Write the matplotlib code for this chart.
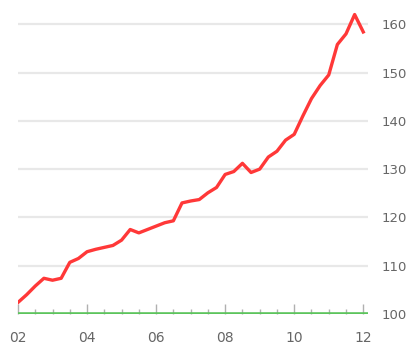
import matplotlib.pyplot as plt
from matplotlib.ticker import FixedLocator, MultipleLocator

# quarterly index, 2002Q1 .. 2012Q1
years = [2002 + 0.25 * i for i in range(41)]
index_values = [
    102.4, 104.0, 105.8, 107.4, 107.0, 107.4, 110.7, 111.5, 112.9, 113.4,
    113.8, 114.2, 115.3, 117.5, 116.8, 117.5, 118.2, 118.9, 119.3, 123.0,
    123.4, 123.7, 125.1, 126.2, 128.9, 129.5, 131.2, 129.3, 130.0, 132.5,
    133.7, 136.0, 137.2, 141.0, 144.6, 147.3, 149.5, 155.8, 158.0, 162.0,
    158.4,
]
baseline = 100
y_ticks = [100, 110, 120, 130, 140, 150, 160]
x_ticks = [2002, 2004, 2006, 2008, 2010, 2012]
x_labels = ["02", "04", "06", "08", "10", "12"]

fig = plt.figure(figsize=(4.09, 3.47), dpi=100)
ax = fig.add_axes([0.044, 0.095, 0.856, 0.877])

# grid
for v in y_ticks[1:]:
    ax.axhline(v, color="#e8e8e8", lw=1.6, zorder=1)

ax.plot(years, index_values, color="#ff3838", lw=2.4, zorder=3)
ax.axhline(baseline, color="#5cc45c", lw=2.6, zorder=2)

ax.set_xlim(2002, 2012.14)
ax.set_ylim(100, 163)

for s in ax.spines.values():
    s.set_visible(False)

ax.yaxis.tick_right()
ax.set_yticks(y_ticks)
ax.tick_params(axis="y", length=0, pad=10, labelsize=9.5, labelcolor="#666666")

ax.xaxis.set_major_locator(FixedLocator(x_ticks))
ax.set_xticklabels(x_labels)
ax.xaxis.set_minor_locator(MultipleLocator(0.5))
ax.tick_params(axis="x", which="major", direction="in", length=7.5, width=1,
               color="#b0b0b0", pad=12, labelsize=10, labelcolor="#666666")
ax.tick_params(axis="x", which="minor", direction="in", length=3.8, width=1,
               color="#b0b0b0")

fig.savefig("out.png", dpi=100)
